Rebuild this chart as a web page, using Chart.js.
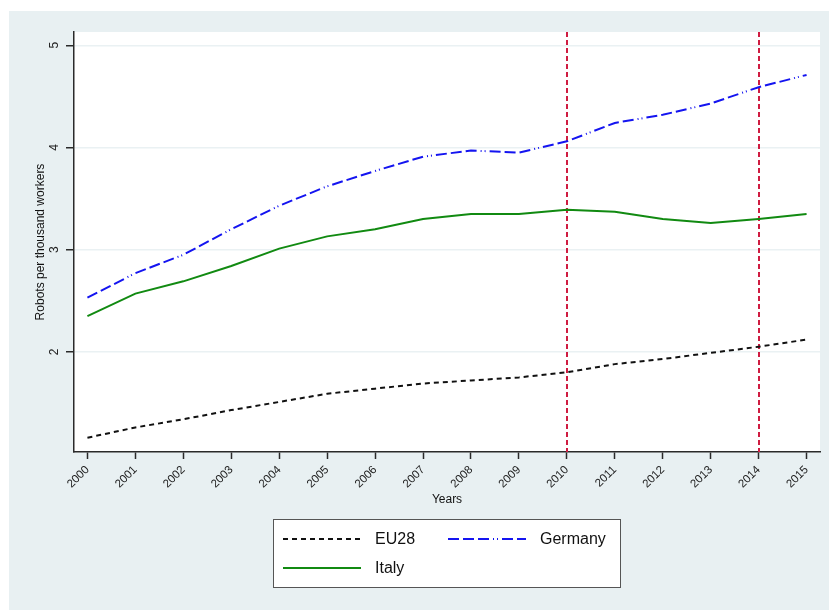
<!DOCTYPE html>
<html>
<head>
<meta charset="utf-8">
<title>Robots per thousand workers</title>
<script src="https://cdn.jsdelivr.net/npm/chart.js@4/dist/chart.umd.min.js"></script>
<style>
  html, body { margin: 0; padding: 0; background: #ffffff; }
  #wrap { width: 829px; height: 610px; position: relative; }
</style>
</head>
<body>
<div id="wrap"><canvas id="chart" width="829" height="610"></canvas></div>
<script>
/* ── Data ── */
const years     = [2000, 2001, 2002, 2003, 2004, 2005, 2006, 2007, 2008, 2009, 2010, 2011, 2012, 2013, 2014, 2015];
const eu28      = [1.16, 1.26, 1.34, 1.43, 1.51, 1.59, 1.64, 1.69, 1.72, 1.75, 1.80, 1.88, 1.93, 1.99, 2.05, 2.12];
const germany   = [2.53, 2.77, 2.95, 3.20, 3.43, 3.62, 3.77, 3.91, 3.97, 3.95, 4.06, 4.24, 4.32, 4.43, 4.59, 4.71];
const italy     = [2.35, 2.57, 2.69, 2.84, 3.01, 3.13, 3.20, 3.30, 3.35, 3.35, 3.39, 3.37, 3.30, 3.26, 3.30, 3.35];
const yTicks    = [2, 3, 4, 5];
const markYears = [2010, 2014];

/* ── Colours ── */
const BG_OUTER = '#e8f0f2';
const AXIS_CLR = '#2a2a2a';
const GRID_CLR = '#eaf1f3';
const RED      = '#cf1c41';
const FONT     = "'Liberation Sans', Arial, Helvetica, sans-serif";

const toXY = arr => arr.map((v, i) => ({ x: years[i], y: v }));

/* ── Background panels ── */
const bgPlugin = {
  id: 'bg',
  beforeDraw(chart) {
    const { ctx, chartArea: a } = chart;
    ctx.save();
    ctx.fillStyle = BG_OUTER;
    ctx.fillRect(9, 11, chart.width - 9, chart.height - 11);
    ctx.fillStyle = '#ffffff';
    ctx.fillRect(a.left, a.top, a.right - a.left, a.bottom - a.top);
    ctx.restore();
  }
};

/* ── Reference lines, rotated y labels, legend ── */
const extrasPlugin = {
  id: 'extras',
  beforeDatasetsDraw(chart) {
    const { ctx, chartArea: a, scales: { x } } = chart;
    ctx.save();
    ctx.strokeStyle = RED;
    ctx.lineWidth = 2;
    ctx.setLineDash([5, 3]);
    markYears.forEach(yr => {
      const px = Math.round(x.getPixelForValue(yr));
      ctx.beginPath();
      ctx.moveTo(px, a.top);
      ctx.lineTo(px, a.bottom);
      ctx.stroke();
    });
    ctx.restore();
  },
  afterDraw(chart) {
    const { ctx, scales: { y } } = chart;
    ctx.save();
    // y tick labels, rotated like the original
    ctx.fillStyle = '#222';
    ctx.font = `12px ${FONT}`;
    ctx.textAlign = 'center';
    ctx.textBaseline = 'middle';
    yTicks.forEach(t => {
      const py = y.getPixelForValue(t);
      ctx.save();
      ctx.translate(55, py);
      ctx.rotate(-Math.PI / 2);
      ctx.fillText(String(t), 0, 0);
      ctx.restore();
    });

    // legend box
    const bx = 273, by = 519, bw = 347, bh = 68;
    ctx.fillStyle = '#ffffff';
    ctx.fillRect(bx, by, bw, bh);
    ctx.strokeStyle = '#555555';
    ctx.lineWidth = 1;
    ctx.strokeRect(bx + 0.5, by + 0.5, bw, bh);

    const items = [
      { ds: 0, lx: 283, ly: 539 },
      { ds: 1, lx: 448, ly: 539 },
      { ds: 2, lx: 283, ly: 568 }
    ];
    items.forEach(it => {
      const d = chart.data.datasets[it.ds];
      ctx.save();
      ctx.strokeStyle = d.borderColor;
      ctx.lineWidth = d.borderWidth;
      ctx.setLineDash(d.borderDash || []);
      ctx.beginPath();
      ctx.moveTo(it.lx, it.ly);
      ctx.lineTo(it.lx + 78, it.ly);
      ctx.stroke();
      ctx.restore();
      ctx.fillStyle = '#111';
      ctx.font = `16px ${FONT}`;
      ctx.textAlign = 'left';
      ctx.textBaseline = 'middle';
      ctx.fillText(d.label, it.lx + 92, it.ly + 1);
    });
    ctx.restore();
  }
};

const ctx = document.getElementById('chart').getContext('2d');

new Chart(ctx, {
  type: 'line',
  data: {
    datasets: [
      {
        label: 'EU28',
        data: toXY(eu28),
        borderColor: '#111111',
        borderWidth: 2,
        borderDash: [5, 4],
        pointRadius: 0,
        tension: 0
      },
      {
        label: 'Germany',
        data: toXY(germany),
        borderColor: '#1414f0',
        borderWidth: 2,
        borderDash: [11, 4, 11, 4, 11, 4, 1, 3, 1, 4],
        pointRadius: 0,
        tension: 0
      },
      {
        label: 'Italy',
        data: toXY(italy),
        borderColor: '#118a11',
        borderWidth: 2,
        pointRadius: 0,
        tension: 0
      }
    ]
  },
  options: {
    responsive: false,
    animation: false,
    layout: { padding: { left: 0, top: 32, right: 9, bottom: 0 } },
    plugins: {
      legend: { display: false },
      tooltip: { enabled: false }
    },
    scales: {
      x: {
        type: 'linear',
        min: 1999.72,
        max: 2015.28,
        afterBuildTicks: s => { s.ticks = years.map(v => ({ value: v })); },
        afterFit: s => { s.height = 158; },
        grid: {
          drawOnChartArea: false,
          tickLength: 7,
          tickColor: AXIS_CLR,
          tickWidth: 1.5
        },
        border: { color: AXIS_CLR, width: 1.5 },
        ticks: {
          minRotation: 45,
          maxRotation: 45,
          padding: 4,
          color: '#222',
          font: { family: FONT, size: 11.5 },
          callback: v => String(v)
        },
        title: {
          display: true,
          text: 'Years',
          color: '#111',
          font: { family: FONT, size: 12 },
          padding: { top: 0, bottom: 103 }
        }
      },
      y: {
        min: 1.02,
        max: 5.13,
        afterBuildTicks: s => { s.ticks = yTicks.map(v => ({ value: v })); },
        afterFit: s => { s.width = 74; },
        grid: {
          color: GRID_CLR,
          lineWidth: 1.5,
          tickLength: 8,
          tickColor: AXIS_CLR,
          tickWidth: 1.5
        },
        border: { color: AXIS_CLR, width: 1.5 },
        ticks: { display: false },
        title: {
          display: true,
          text: 'Robots per thousand workers',
          color: '#111',
          font: { family: FONT, size: 12 },
          padding: { top: 33, bottom: 0 }
        }
      }
    }
  },
  plugins: [bgPlugin, extrasPlugin]
});
</script>
</body>
</html>
